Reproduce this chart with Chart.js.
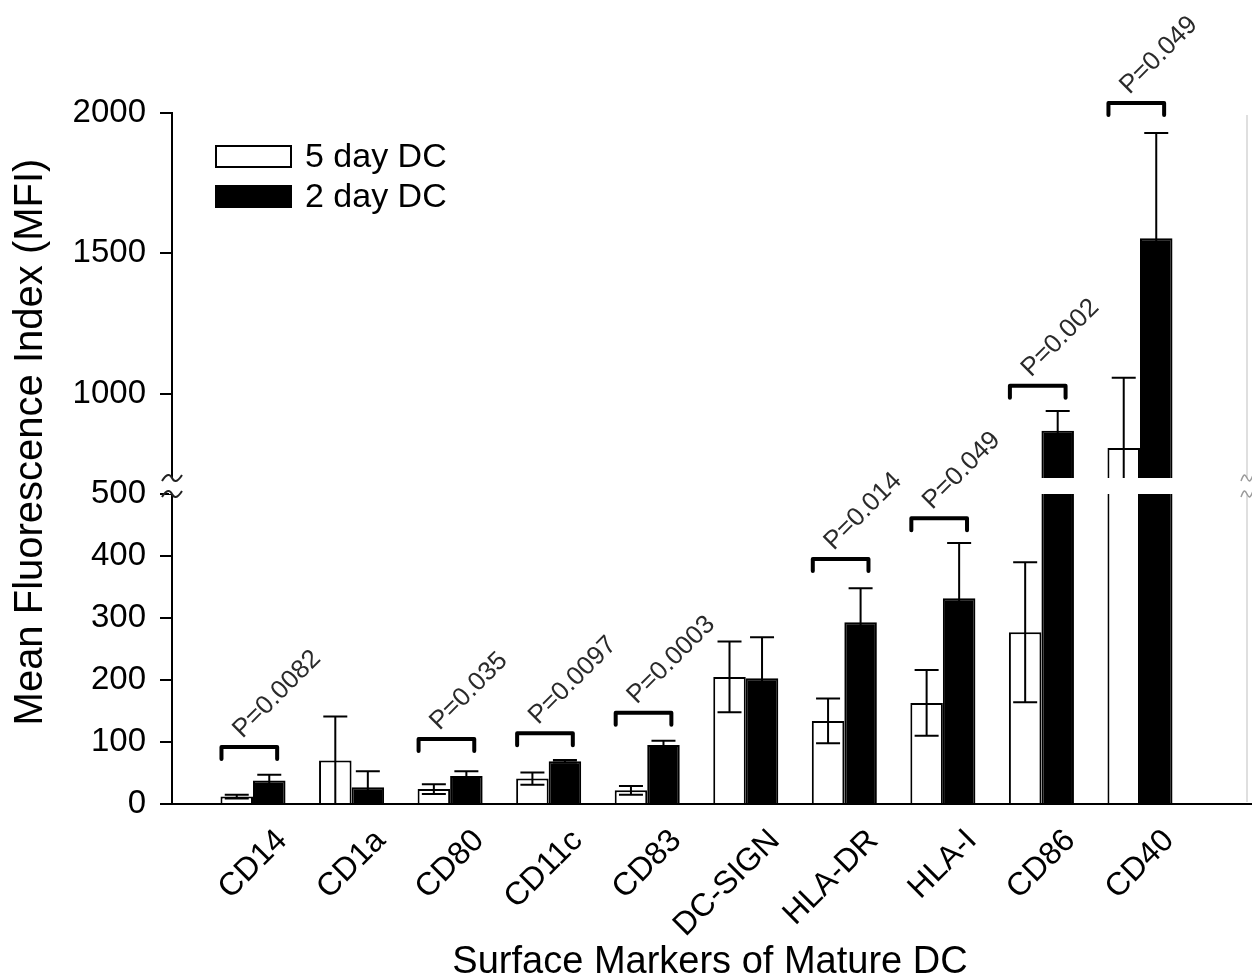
<!DOCTYPE html>
<html>
<head>
<meta charset="utf-8">
<script src="https://cdn.jsdelivr.net/npm/chart.js@4.4.1/dist/chart.umd.min.js"></script>
<style>
html,body{margin:0;padding:0;background:#fff;}
#wrap{width:1252px;height:980px;position:relative;}
</style>
</head>
<body>
<div id="wrap"><canvas id="c"></canvas></div>
<script>
// ---------------- data ----------------
const categories = ['CD14','CD1a','CD80','CD11c','CD83','DC-SIGN','HLA-DR','HLA-I','CD86','CD40'];
const dc5Mean = [12, 70, 24, 41, 22, 205, 134, 163, 277, 807];
const dc5Err  = [3, 71, 8, 10, 7, 57, 36, 53, 113, 250];
const dc2Mean = [38, 27, 45, 69, 95, 203, 293, 332, 868, 1554];
const dc2Err  = [9, 26, 8, 2, 7, 66, 55, 89, 71, 375];
const pLabels = ['P=0.0082', null, 'P=0.035', 'P=0.0097', 'P=0.0003', null, 'P=0.014', 'P=0.049', 'P=0.002', 'P=0.049'];
const bracketLevels = [92, null, 105, 114, 147, null, 395, 461, 1029, 2036];
const yTicks = [0, 100, 200, 300, 400, 500, 1000, 1500, 2000];
const seriesNames = ['5 day DC', '2 day DC'];

const FONT = '"Liberation Sans", Arial, Helvetica, sans-serif';

// ---------------- broken linear scale ----------------
const BaseLinear = Chart.LinearScale || Chart.registry.getScale('linear');
class BrokenLinearScale extends BaseLinear {
  _segs() {
    const o = this.options;
    const H = this.bottom - this.top;
    const low = H * o.lowFrac, gap = H * o.gapFrac;
    return {low, gap, up: H - low - gap, lo: o.breakLow, hi: o.breakHigh};
  }
  buildTicks() {
    return this.options.tickValues.map(v => ({value: v}));
  }
  getPixelForValue(v) {
    const s = this._segs(), b = this.bottom;
    if (v <= s.lo) return b - (v - this.min) / (s.lo - this.min) * s.low;
    if (v <= s.hi) return b - s.low - (v - s.lo) / (s.hi - s.lo) * s.gap;
    return b - s.low - s.gap - (v - s.hi) / (this.max - s.hi) * s.up;
  }
  getValueForPixel(p) {
    const s = this._segs(), d = this.bottom - p;
    if (d <= s.low) return this.min + d / s.low * (s.lo - this.min);
    if (d <= s.low + s.gap) return s.lo + (d - s.low) / s.gap * (s.hi - s.lo);
    return s.hi + (d - s.low - s.gap) / s.up * (this.max - s.hi);
  }
}
BrokenLinearScale.id = 'brokenLinear';
BrokenLinearScale.defaults = {};
Chart.register(BrokenLinearScale);

// ---------------- annotations plugin ----------------
function squiggle(ctx, cx, cy, half) {
  ctx.beginPath();
  ctx.moveTo(cx - half, cy + 3);
  ctx.bezierCurveTo(cx - half / 2, cy - 5, cx - 2, cy - 4, cx, cy);
  ctx.bezierCurveTo(cx + 2, cy + 4, cx + half / 2, cy + 5, cx + half, cy - 3);
  ctx.stroke();
}

const annot = {
  id: 'annot',
  afterDatasetsDraw(chart) {
    const ctx = chart.ctx, xs = chart.scales.x, ys = chart.scales.y;
    const yo = ys.options;
    const ca = chart.chartArea;
    const means = [dc5Mean, dc2Mean], errs = [dc5Err, dc2Err];
    ctx.save();
    // error bars
    ctx.strokeStyle = '#000';
    ctx.lineWidth = 2;
    for (let d = 0; d < 2; d++) {
      const meta = chart.getDatasetMeta(d);
      meta.data.forEach((bar, i) => {
        const m = means[d][i], e = errs[d][i];
        const yTop = ys.getPixelForValue(m + e);
        const lowV = m - e;
        const yBot = ys.getPixelForValue(Math.max(0, lowV));
        const cap = 12;
        ctx.beginPath();
        ctx.moveTo(bar.x, yTop); ctx.lineTo(bar.x, yBot);
        ctx.moveTo(bar.x - cap, yTop); ctx.lineTo(bar.x + cap, yTop);
        if (lowV > 0) { ctx.moveTo(bar.x - cap, yBot); ctx.lineTo(bar.x + cap, yBot); }
        ctx.stroke();
      });
    }
    // gap across bars crossing the break
    const gTop = ys.getPixelForValue(yo.breakHigh), gBot = ys.getPixelForValue(yo.breakLow);
    ctx.fillStyle = '#fff';
    for (let d = 0; d < 2; d++) {
      const meta = chart.getDatasetMeta(d);
      meta.data.forEach((bar, i) => {
        if (means[d][i] + errs[d][i] > yo.breakLow) {
          const w = bar.width;
          ctx.fillRect(bar.x - w / 2 - 2, gTop, w + 4, gBot - gTop);
        }
      });
    }
    // axis break marks (left axis)
    const ax = ca.left;
    ctx.fillRect(ax - 3, gTop, 6, gBot - gTop);
    ctx.strokeStyle = '#222';
    ctx.lineWidth = 2;
    squiggle(ctx, ax, gTop, 10);
    squiggle(ctx, ax, gBot, 10);
    // x axis runs to the figure edge
    ctx.strokeStyle = '#000';
    ctx.beginPath(); ctx.moveTo(ca.right - 1, ca.bottom); ctx.lineTo(chart.width, ca.bottom); ctx.stroke();
    // faint right axis (adjacent panel edge)
    const rx = 1247;
    ctx.strokeStyle = '#d4d4d4';
    ctx.lineWidth = 1.5;
    ctx.beginPath(); ctx.moveTo(rx, ca.top + 2); ctx.lineTo(rx, gTop); ctx.stroke();
    ctx.beginPath(); ctx.moveTo(rx, gBot); ctx.lineTo(rx, ca.bottom - 2); ctx.stroke();
    ctx.strokeStyle = '#9a9a9a';
    squiggle(ctx, rx, gTop, 6);
    squiggle(ctx, rx, gBot, 6);
    // significance brackets and p-values
    ctx.strokeStyle = '#000';
    ctx.lineWidth = 4;
    ctx.lineJoin = 'round';
    ctx.lineCap = 'round';
    ctx.fillStyle = '#2a2a2a';
    ctx.font = '26px ' + FONT;
    ctx.textAlign = 'left';
    ctx.textBaseline = 'alphabetic';
    bracketLevels.forEach((lv, i) => {
      if (lv == null) return;
      const x1 = xs.getPixelForValue(i + 1 - 0.32);
      const x2 = xs.getPixelForValue(i + 1 + 0.245);
      const y = ys.getPixelForValue(lv);
      ctx.beginPath();
      ctx.moveTo(x1, y + 12); ctx.lineTo(x1, y); ctx.lineTo(x2, y); ctx.lineTo(x2, y + 12);
      ctx.stroke();
      ctx.save();
      ctx.translate(x1 + 21, y - 8);
      ctx.rotate(-Math.PI / 4);
      ctx.fillText(pLabels[i], 0, 0);
      ctx.restore();
    });
    ctx.restore();
  },
  afterDraw(chart) {
    const ctx = chart.ctx;
    ctx.save();
    // legend
    const bx = 216, bw = 75, bh = 21;
    const rows = [{y: 146, fill: '#fff'}, {y: 186, fill: '#000'}];
    ctx.font = '34px ' + FONT;
    ctx.textAlign = 'left';
    ctx.textBaseline = 'middle';
    rows.forEach((r, k) => {
      ctx.fillStyle = r.fill;
      ctx.fillRect(bx, r.y, bw, bh);
      ctx.strokeStyle = '#000';
      ctx.lineWidth = 2;
      ctx.strokeRect(bx, r.y, bw, bh);
      ctx.fillStyle = '#000';
      ctx.fillText(chart.data.datasets[k].label, 305, r.y + bh / 2 + 1);
    });
    // y-axis title
    ctx.translate(31, 442);
    ctx.rotate(-Math.PI / 2);
    ctx.textAlign = 'center';
    ctx.font = '40px ' + FONT;
    ctx.fillText('Mean Fluorescence Index (MFI)', 0, 0);
    ctx.restore();
  }
};

// ---------------- chart ----------------
const mk = (arr) => arr.map((v, i) => ({x: i + 1, y: v}));

new Chart(document.getElementById('c'), {
  type: 'bar',
  data: {
    datasets: [
      {label: seriesNames[0], data: mk(dc5Mean), backgroundColor: '#fff', borderColor: '#000', borderWidth: 2,
       categoryPercentage: 0.66, barPercentage: 1.0},
      {label: seriesNames[1], data: mk(dc2Mean), backgroundColor: '#000', borderColor: '#000', borderWidth: 2,
       categoryPercentage: 0.66, barPercentage: 1.0}
    ]
  },
  options: {
    responsive: true,
    maintainAspectRatio: false,
    animation: false,
    layout: {padding: {top: 113, right: 4, left: 0, bottom: 0}},
    plugins: {legend: {display: false}, tooltip: {enabled: false}},
    scales: {
      x: {
        type: 'linear',
        min: 0.178, max: 11.096,
        offset: false,
        afterBuildTicks: (s) => { s.ticks = categories.map((c, i) => ({value: i + 1})); },
        afterFit: (s) => { s.height = 176; },
        grid: {display: false, drawTicks: false},
        border: {display: true, color: '#000', width: 2},
        ticks: {
          autoSkip: false, minRotation: 45, maxRotation: 45,
          font: {family: FONT, size: 32}, color: '#000', padding: 18, labelOffset: 29,
          callback: (v) => categories[v - 1] ?? ''
        },
        title: {display: true, text: 'Surface Markers of Mature DC', color: '#000',
                font: {family: FONT, size: 38, lineHeight: 0.9}, padding: {top: 0, bottom: 0}}
      },
      y: {
        type: 'brokenLinear',
        min: 0, max: 2000,
        breakLow: 500, breakHigh: 700, lowFrac: 310 / 691, gapFrac: 16 / 691,
        tickValues: yTicks,
        afterFit: (s) => { s.width = 172; },
        grid: {display: true, drawOnChartArea: false, drawTicks: true, tickLength: 12, color: '#000', lineWidth: 2},
        border: {display: true, color: '#000', width: 2},
        ticks: {font: {family: FONT, size: 33}, color: '#000', padding: 14, callback: (v) => String(v)},
        title: {display: false}
      }
    }
  },
  plugins: [annot]
});
</script>
</body>
</html>
